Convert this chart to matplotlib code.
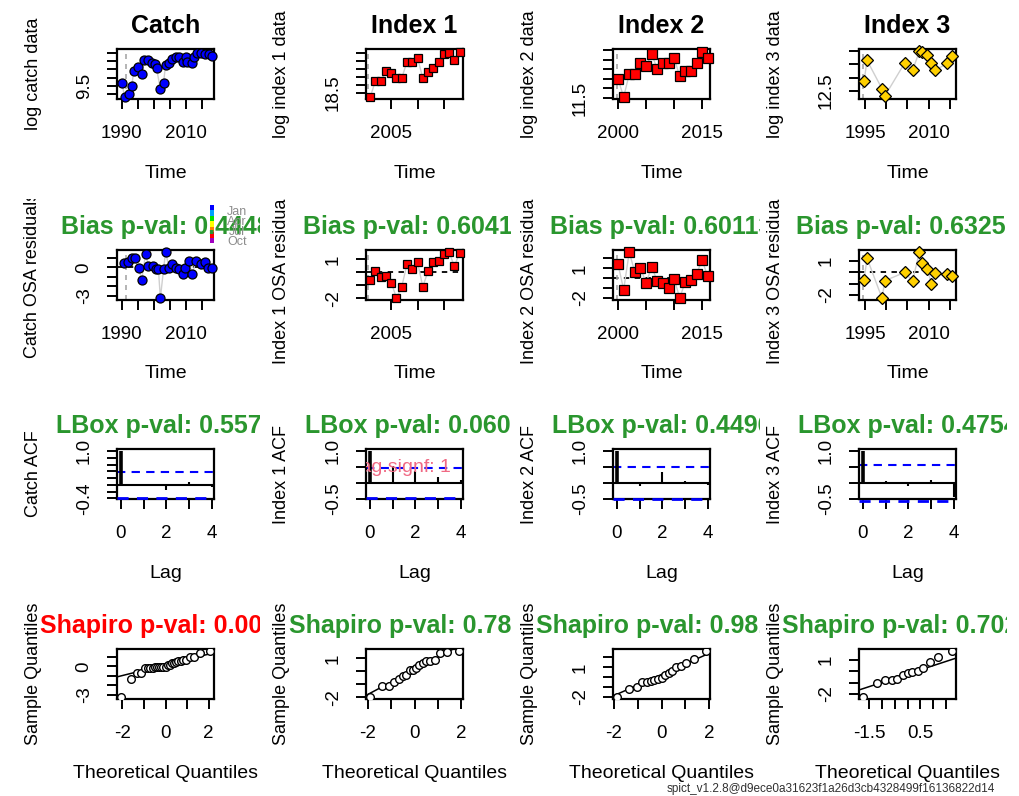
import numpy as np
import matplotlib
matplotlib.use("Agg")
import matplotlib.pyplot as plt
from matplotlib.transforms import Bbox, TransformedBbox
from statistics import NormalDist

plt.rcParams['font.family'] = ['Liberation Sans', 'DejaVu Sans']

# -------------------------------
# data
# -------------------------------

names = ["Catch", "Index 1", "Index 2", "Index 3"]

# log data (row 1)
catch_t = [1990.0, 1990.9, 1992.2, 1993.1, 1993.7, 1994.9, 1996.2, 1996.8, 1998.0, 1999.3,
           2000.2, 2000.8, 2002.0, 2003.0, 2003.6, 2004.8, 2005.7, 2007.0, 2007.9, 2009.1,
           2010.0, 2010.4, 2011.9, 2012.5, 2013.5, 2014.7, 2016.0, 2017.2, 2018.1]
catch_log = [9.536, 9.368, 9.404, 9.50, 9.68, 9.728, 9.644, 9.812, 9.812, 9.776,
             9.764, 9.716, 9.464, 9.536, 9.752, 9.776, 9.824, 9.848, 9.848, 9.788,
             9.848, 9.788, 9.776, 9.848, 9.896, 9.896, 9.884, 9.884, 9.86]

idx1_t = list(range(2001, 2019))
idx1_log = [18.25, 19.25, 19.25, 19.875, 19.75, 19.44, 19.44, 20.44, 20.44, 20.69,
            19.44, 19.81, 20.06, 20.44, 20.94, 21.0, 20.56, 21.06]

idx2_t = list(range(2000, 2017))
idx2_log = [12.49, 11.55, 12.75, 12.75, 13.32, 13.16, 13.79, 13.01, 13.32, 13.32,
            13.58, 12.64, 12.90, 12.90, 13.32, 13.90, 13.58]

idx3_t = [1994.8, 1995.5, 1999.0, 1999.7, 2004.3, 2006.2, 2007.8, 2008.5, 2009.7,
          2010.6, 2011.5, 2014.3, 2015.5]
idx3_log = [12.88, 13.65, 12.58, 12.31, 13.54, 13.27, 14.0, 13.96, 13.85, 13.54,
            13.27, 13.54, 13.81]

# OSA residuals (row 2)
catch_res_t = [1990.6, 1991.9, 1993.1, 1994.0, 1995.2, 1996.2, 1997.4, 1998.3, 1999.6,
               2000.5, 2001.4, 2002.0, 2003.0, 2003.6, 2004.8, 2005.7, 2007.0, 2007.9,
               2009.1, 2009.8, 2011.0, 2011.9, 2013.1, 2014.7, 2015.9, 2016.9, 2018.1]
catch_res = [0.43, 0.54, 0.97, 0.97, -0.11, -1.29, 1.40, 0.11, 0.11, -0.22, -0.22, -3.23,
             -0.22, 1.61, -0.11, 0.32, -0.11, -0.22, -0.75, -0.11, 0.65, -0.75, 0.65,
             0.32, 0.54, -0.11, -0.11]
idx1_res = [-0.55, 0.08, -0.39, -0.31, -0.79, -1.97, -1.10, 0.63, 0.24, 0.79,
            -1.10, 0.08, 0.79, 0.87, 1.42, 1.57, 0.47, 1.50]
idx2_res = [1.41, -1.16, 2.65, 0.59, 1.00, -0.44, 1.10, -0.24, -0.44, -0.96,
            -0.03, -1.99, -0.34, -0.13, 0.48, 1.82, 0.18]
idx3_res = [-0.64, 1.27, -2.27, -0.73, 0.0, -0.73, 1.82, 0.82, 0.27, -1.0,
            -0.09, -0.18, -0.27]

first_obs = [1991.2, 2000.6, 1999.8, 1994.5]

# ACF (row 3)
lags = [0, 1, 2, 3, 4]
acf_vals = [[1.0, -0.03, -0.15, 0.08, -0.06],
            [1.0, 0.54, 0.37, 0.20, 0.10],
            [1.0, -0.10, 0.35, 0.05, -0.05],
            [1.0, 0.05, -0.10, 0.10, -0.45]]

bias_txt = ["Bias p-val: 0.4448", "Bias p-val: 0.60417", "Bias p-val: 0.60113", "Bias p-val: 0.63251"]
lbox_txt = ["LBox p-val: 0.5579", "LBox p-val: 0.0607", "LBox p-val: 0.4496", "LBox p-val: 0.4754"]
shap_txt = ["Shapiro p-val: 0.0012", "Shapiro p-val: 0.7843", "Shapiro p-val: 0.9812", "Shapiro p-val: 0.7021"]
shap_ok = [False, True, True, True]

months = ["Jan", "Apr", "Jul", "Oct"]
season_cols = ["#0000FF", "#00A0FF", "#00E000", "#FFFF00", "#FF8000", "#FF0000", "#A000C0"]

# axis setups: limits, ticks, tick labels
data_xlim = [(1988.5, 2018.7), (2000.2, 2018.65), (1999.1, 2016.4), (1993.6, 2016.4)]
data_xticks = [[1990, 1995, 2000, 2005, 2010, 2015], [2005, 2010, 2015],
               [2000, 2005, 2010, 2015], [1995, 2000, 2005, 2010, 2015]]
data_xlabels = [["1990", "", "", "", "2010", ""], ["2005", "", ""],
                ["2000", "", "", "2015"], ["1995", "", "", "2010", ""]]
data_ylim = [(9.344, 9.944), (18.125, 21.25), (11.45, 14.05), (12.19, 14.08)]
data_yticks = [[9.4, 9.5, 9.6, 9.7, 9.8, 9.9], [18.5, 19.0, 19.5, 20.0, 20.5, 21.0],
               [11.5, 12.0, 12.5, 13.0, 13.5, 14.0], [12.5, 13.0, 13.5, 14.0]]
data_ylabels = [["", "9.5", "", "", "", ""], ["18.5", "", "", "", "", ""],
                ["11.5", "", "", "", "", ""], ["12.5", "", "", ""]]

res_ylim = [(-3.44, 1.83), (-2.13, 1.73), (-2.20, 2.86), (-2.45, 2.0)]
res_yticks = [[-3, -2, -1, 0, 1], [-2, -1, 0, 1], [-2, -1, 0, 1, 2], [-2, -1, 0, 1]]
res_ylabels = [["-3", "", "", "0", ""], ["-2", "", "", "1"], ["-2", "", "", "1", ""],
               ["-2", "", "", "1"]]

acf_ylim = [(-0.42, 1.06), (-0.48, 1.06), (-0.48, 1.06), (-0.48, 1.06)]
acf_yticks = [[-0.4, -0.2, 0, 0.2, 0.4, 0.6, 0.8, 1.0], [-0.5, 0, 0.5, 1.0],
              [-0.5, 0, 0.5, 1.0], [-0.5, 0, 0.5, 1.0]]
acf_ylabels = [["-0.4", "", "", "", "", "", "", "1.0"], ["-0.5", "", "", "1.0"],
               ["-0.5", "", "", "1.0"], ["-0.5", "", "", "1.0"]]

qq_xticks = [[-2, -1, 0, 1, 2]] * 3 + [[-1.5, -1, -0.5, 0, 0.5, 1, 1.5]]
qq_xlabels = [["-2", "", "0", "", "2"]] * 3 + [["-1.5", "", "", "", "0.5", "", ""]]

styles = [dict(marker='o', color='#0000FF', ms=6.5),
          dict(marker='s', color='#FF0000', ms=5.5),
          dict(marker='s', color='#FF0000', ms=7),
          dict(marker='D', color='#FFD000', ms=6.5)]

# -------------------------------
# layout (pixels)
# -------------------------------
W, H = 1019, 796
COL_LEFT = [117, 366, 613, 859]
ROW_TOP = [49, 250, 449, 649]
BOX_W, BOX_H = 97, 50
CLIP_X = [0, 260, 511, 760, 1007]
CLIP_Y = [0, 199, 398, 597, 796]
GREEN = '#2a962e'

fig = plt.figure(figsize=(W / 100, H / 100), dpi=100)


def fig_clip(x0, x1, y0, y1):
    return TransformedBbox(Bbox([[x0 / W, 1 - y1 / H], [x1 / W, 1 - y0 / H]]), fig.transFigure)


def ptext(x, y, s, clip=None, **kw):
    kw.setdefault('ha', 'center')
    kw.setdefault('va', 'center')
    t = fig.text(x / W, 1 - y / H, s, **kw)
    if clip is not None:
        t.set_clip_box(clip)
        t.set_clip_on(True)
    return t


def make_ax(row, col, title, tcol, xlab, ylab):
    x0, y0 = COL_LEFT[col], ROW_TOP[row]
    ax = fig.add_axes([x0 / W, 1 - (y0 + BOX_H) / H, BOX_W / W, BOX_H / H])
    for s in ax.spines.values():
        s.set_linewidth(1.6)
    ax.tick_params(direction='out', length=7, width=1.4, labelsize=13.5, pad=12)
    ax.tick_params(axis='y', labelrotation=90, labelsize=13.5, pad=10.5)
    clip = fig_clip(CLIP_X[col], CLIP_X[col + 1], CLIP_Y[row], CLIP_Y[row + 1])
    ptext(x0 + BOX_W / 2, y0 - 23, title, clip=clip, fontsize=18,
          fontweight='bold', color=tcol)
    ptext(x0 + BOX_W / 2, y0 + BOX_H + 74, xlab, fontsize=14)
    ptext(x0 - 84, y0 + BOX_H / 2, ylab, clip=clip, fontsize=13, rotation=90)
    return ax


def set_ticks(ax, xt, xl, yt, yl):
    ax.set_xticks(xt)
    ax.set_xticklabels(xl)
    ax.set_yticks(yt)
    ax.set_yticklabels(yl, va='center')


data_t = [catch_t, idx1_t, idx2_t, idx3_t]
data_v = [catch_log, idx1_log, idx2_log, idx3_log]
res_t = [catch_res_t, idx1_t, idx2_t, idx3_t]
res_v = [catch_res, idx1_res, idx2_res, idx3_res]
ylab_data = ["log catch data", "log index 1 data", "log index 2 data", "log index 3 data"]
ylab_res = ["Catch OSA residuals", "Index 1 OSA residuals", "Index 2 OSA residuals",
            "Index 3 OSA residuals"]
ylab_acf = ["Catch ACF", "Index 1 ACF", "Index 2 ACF", "Index 3 ACF"]

nd = NormalDist()

for c in range(4):
    st = styles[c]
    # ---- row 1: data
    ax = make_ax(0, c, names[c], 'black', "Time", ylab_data[c])
    ax.axvline(first_obs[c], color='#a8a8a8', ls=(0, (3, 3)), lw=1.2)
    ax.plot(data_t[c], data_v[c], color='#cfcfcf', lw=1, zorder=2)
    ax.plot(data_t[c], data_v[c], ls='none', marker=st['marker'], ms=st['ms'],
            mfc=st['color'], mec='black', mew=0.9, zorder=3, clip_on=False)
    ax.set_xlim(*data_xlim[c])
    ax.set_ylim(*data_ylim[c])
    set_ticks(ax, data_xticks[c], data_xlabels[c], data_yticks[c], data_ylabels[c])

    # ---- row 2: OSA residuals
    ax = make_ax(1, c, bias_txt[c], GREEN, "Time", ylab_res[c])
    ax.axvline(first_obs[c], color='#a8a8a8', ls=(0, (3, 3)), lw=1.2)
    ax.axhline(0, color='black', ls=(0, (3, 3)), lw=1.3, zorder=1)
    ax.plot(res_t[c], res_v[c], color='#cfcfcf', lw=1, zorder=2)
    ax.plot(res_t[c], res_v[c], ls='none', marker=st['marker'], ms=st['ms'],
            mfc=st['color'], mec='black', mew=0.9, zorder=3, clip_on=False)
    ax.set_xlim(*data_xlim[c])
    ax.set_ylim(*res_ylim[c])
    set_ticks(ax, data_xticks[c], data_xlabels[c], res_yticks[c], res_ylabels[c])

    # ---- row 3: ACF
    ax = make_ax(2, c, lbox_txt[c], GREEN, "Lag", ylab_acf[c])
    n = len(res_v[c])
    ci = 2 / np.sqrt(n)
    ax.axhline(0, color='black', lw=1.5)
    ax.axhline(ci, color='#0000FF', ls=(0, (4, 3)), lw=1.5)
    ax.axhline(-ci, color='#0000FF', ls=(0, (4, 3)), lw=2, zorder=4, clip_on=False)
    for k, a in zip(lags, acf_vals[c]):
        ax.vlines(k, 0, a, color='black', lw=2.6 if k == 0 else 1.5)
    if c == 1:
        ax.text(-0.10, 0.64, "lag.signf: 1", transform=ax.transAxes, ha='left',
                va='center', fontsize=14, color='#f06a84', clip_on=True)
    ax.set_xlim(-0.17, 4.09)
    ax.set_ylim(*acf_ylim[c])
    set_ticks(ax, lags, ["0", "", "2", "", "4"], acf_yticks[c], acf_ylabels[c])

    # ---- row 4: QQ plot
    ax = make_ax(3, c, shap_txt[c], GREEN if shap_ok[c] else '#FF0000',
                 "Theoretical Quantiles", "Sample Quantiles")
    r = np.sort(np.array(res_v[c]))
    n = len(r)
    a = 0.5 if n > 10 else 3 / 8
    p = (np.arange(1, n + 1) - a) / (n + 1 - 2 * a)
    q = np.array([nd.inv_cdf(v) for v in p])
    ax.plot(q, r, ls='none', marker='o', ms=5.5, mfc='white', mec='black', mew=1, zorder=3)
    y1, y2 = np.quantile(r, [0.25, 0.75])
    x1, x2 = nd.inv_cdf(0.25), nd.inv_cdf(0.75)
    slope = (y2 - y1) / (x2 - x1)
    ax.axline((x1, y1), slope=slope, color='black', lw=1.1, zorder=2)
    qpad = 0.04 * (q.max() - q.min())
    ax.set_xlim(q.min() - qpad, q.max() + qpad)
    ax.set_ylim(*res_ylim[c])
    set_ticks(ax, qq_xticks[c], qq_xlabels[c], res_yticks[c], res_ylabels[c])

# season colour key next to the catch residual panel
kax = fig.add_axes([210 / W, 1 - 243 / H, 4 / W, 38 / H])
kax.imshow(np.arange(len(season_cols)).reshape(-1, 1), aspect='auto',
           cmap=matplotlib.colors.ListedColormap(season_cols), interpolation='nearest')
kax.axis('off')
for i, m in enumerate(months):
    ptext(237, 212 + i * 10, m, fontsize=9, color='#8c8c8c')

ptext(995, 789, "spict_v1.2.8@d9ece0a31623f1a26d3cb4328499f16136822d14",
      fontsize=8.5, color='#303030', ha='right')

fig.savefig("out.png", dpi=100)
